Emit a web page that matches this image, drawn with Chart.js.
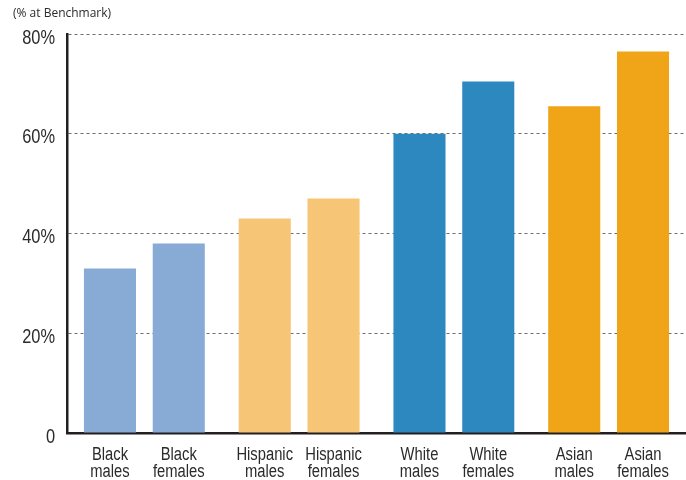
<!DOCTYPE html>
<html>
<head>
<meta charset="utf-8">
<script src="https://cdn.jsdelivr.net/npm/chart.js@4/dist/chart.umd.min.js"></script>
<style>
  html, body { margin: 0; padding: 0; background: #fff; }
  #wrap { width: 686px; height: 480px; position: relative; }
</style>
</head>
<body>
<div id="wrap"><canvas id="benchChart"></canvas></div>
<script>
// Chart data
const groups = ['Black', 'Hispanic', 'White', 'Asian'];
const sexLabels = ['males', 'females'];
const maleValues = [33, 43, 60, 65.5];
const femaleValues = [38, 47, 70.5, 76.5];
const yTicks = [0, 20, 40, 60, 80];
const unitLabel = '(% at Benchmark)';

const maleColors = ['#87abd5', '#f7c576', '#2e88c0', '#f0a519'];
const femaleColors = ['#87abd5', '#f7c576', '#2e88c0', '#f0a519'];

const textColor = '#2b2b2b';
const squeeze = 0.82; // fake a condensed face

const fmtTick = (v) => v === 0 ? '0' : v + '%';

// draw text squeezed horizontally
const narrowText = (ctx, text, x, y) => {
    ctx.save();
    ctx.translate(x, y);
    ctx.scale(squeeze, 1);
    ctx.fillText(text, 0, 0);
    ctx.restore();
};

// Per-bar labels, y tick labels and unit label
const labelsPlugin = {
    id: 'labelsPlugin',
    afterDraw(chart) {
        const ctx = chart.ctx;
        const bottom = chart.chartArea.bottom;
        const yScale = chart.scales.y;
        ctx.save();
        ctx.fillStyle = textColor;
        ctx.textBaseline = 'alphabetic';

        ctx.textAlign = 'center';
        ctx.font = '18px "Liberation Sans", Arial, sans-serif';
        chart.data.datasets.forEach((ds, i) => {
            const meta = chart.getDatasetMeta(i);
            meta.data.forEach((bar, j) => {
                narrowText(ctx, groups[j], bar.x, bottom + 27);
                narrowText(ctx, sexLabels[i], bar.x, bottom + 44);
            });
        });

        ctx.textAlign = 'right';
        ctx.textBaseline = 'middle';
        ctx.font = '20px "Liberation Sans", Arial, sans-serif';
        yScale.ticks.forEach(t => {
            narrowText(ctx, fmtTick(t.value), 55, yScale.getPixelForValue(t.value) + 4);
        });

        ctx.textAlign = 'left';
        ctx.font = '12px "Open Sans", sans-serif';
        ctx.fillText(unitLabel, 13, 14);
        ctx.restore();
    }
};

const ctx = document.getElementById('benchChart').getContext('2d');
new Chart(ctx, {
    type: 'bar',
    data: {
        labels: groups,
        datasets: [
            { label: 'males', data: maleValues, backgroundColor: maleColors },
            { label: 'females', data: femaleValues, backgroundColor: femaleColors }
        ]
    },
    options: {
        responsive: true,
        maintainAspectRatio: false,
        animation: false,
        categoryPercentage: 0.889,
        barPercentage: 0.757,
        layout: { padding: { top: 34, right: -11, left: 0, bottom: 0 } },
        plugins: { legend: { display: false }, tooltip: { enabled: false } },
        scales: {
            x: {
                grid: { drawOnChartArea: false, drawTicks: false },
                border: { display: true, color: '#231f20', width: 2.5 },
                ticks: { display: false },
                afterFit: (scale) => { scale.height = 47; }
            },
            y: {
                min: 0,
                max: 80,
                afterBuildTicks: (scale) => { scale.ticks = yTicks.map(v => ({ value: v })); },
                grid: { color: '#6d6d6d', lineWidth: 1, drawTicks: false },
                border: { display: true, color: '#231f20', width: 2.5, dash: [3, 3] },
                ticks: { display: false },
                afterFit: (scale) => { scale.width = 67; }
            }
        }
    },
    plugins: [labelsPlugin]
});
</script>
</body>
</html>
